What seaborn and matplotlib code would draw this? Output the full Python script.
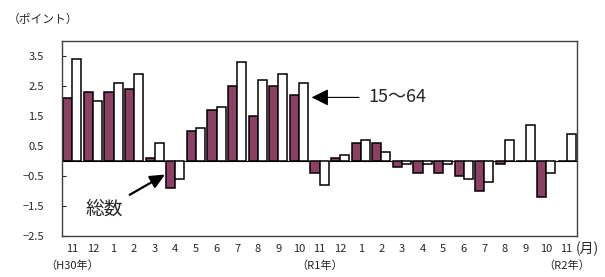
import numpy as np
import pandas as pd
import matplotlib
matplotlib.use('Agg')
import matplotlib.pyplot as plt
import seaborn as sns

# month labels on the x axis (H30.11 .. R2.11)
months = ['11', '12', '1', '2', '3', '4', '5', '6', '7', '8', '9', '10',
          '11', '12', '1', '2', '3', '4', '5', '6', '7', '8', '9', '10', '11']
# year labels and the month they sit under
year_labels = ['（H30年）', '（R1年）', '（R2年）']
year_pos = [0, 12, 24]

# difference from same month of previous year (points)
total = [2.1, 2.3, 2.3, 2.4, 0.1, -0.9, 1.0, 1.7, 2.5, 1.5, 2.5, 2.2,
         -0.4, 0.1, 0.6, 0.6, -0.2, -0.4, -0.4, -0.5, -1.0, -0.1, 0.0, -1.2, 0.0]
age15_64 = [3.4, 2.0, 2.6, 2.9, 0.6, -0.6, 1.1, 1.8, 3.3, 2.7, 2.9, 2.6,
            -0.8, 0.2, 0.7, 0.3, -0.1, -0.1, -0.1, -0.6, -0.7, 0.7, 1.2, -0.4, 0.9]
series = ['総数', '15～64']

yticks = [-2.5, -1.5, -0.5, 0.5, 1.5, 2.5, 3.5]

#%% long table for seaborn
idx = np.arange(len(months))
df = pd.DataFrame({'pos': np.concatenate([idx, idx]),
                   'value': total + age15_64,
                   'series': [series[0]] * len(total) + [series[1]] * len(age15_64)})

sns.set_style('white')
plt.rcParams['font.family'] = ['Noto Sans CJK JP', 'DejaVu Sans']

fig = plt.figure(figsize=(6.05, 2.77), dpi=100)
ax = fig.add_axes([62/605, 1 - 236/277, (577 - 62)/605, (236 - 41)/277])

sns.barplot(data=df, x='pos', y='value', hue='series', hue_order=series,
            palette={'総数': '#993366', '15～64': 'white'},
            edgecolor='black', linewidth=1.1, width=0.88, gap=0,
            legend=False, ax=ax)

ax.axhline(0, color='black', lw=0.8, zorder=0.5)
ax.set_xlim(-0.5, len(months) - 0.5)
ax.set_ylim(-2.5, 4.0)
ax.set_yticks(yticks)
ax.set_yticklabels(['%.1f' % v if v >= 0 else '\u2212%.1f' % -v for v in yticks], fontsize=8)
ax.set_xticks(idx)
ax.set_xticklabels(months, fontsize=8)
ax.set_xlabel('')
ax.set_ylabel('')
ax.tick_params(axis='y', direction='in', length=3, width=0.8, pad=13, left=True)
ax.tick_params(axis='x', length=0, pad=6)
for s in ax.spines.values():
    s.set_color('#404040')
    s.set_linewidth(1.0)

# unit / year labels
fig.text(8/605, 1 - 19/277, '（ポイント）', fontsize=8.5, va='center', ha='left')
fig.text(576/605, 1 - 249/277, '(月)', fontsize=10, va='center', ha='left')
for lab, p in zip(year_labels, year_pos):
    ax.text(p, -0.15, lab, transform=ax.get_xaxis_transform(), fontsize=8,
            ha='center', va='center')

# arrows
ax.annotate('15～64', xy=(11.62, 2.12), xytext=(14.35, 2.12), fontsize=13,
            va='center', ha='left',
            arrowprops=dict(arrowstyle='-|>,head_length=0.8,head_width=0.4',
                            color='black', lw=0.8, shrinkA=4, shrinkB=0))
ax.annotate('総数', xy=(4.5, -0.45), xytext=(1.54, -1.62), fontsize=13.5,
            va='center', ha='center',
            arrowprops=dict(arrowstyle='-|>,head_length=0.65,head_width=0.3',
                            color='black', lw=1.6, shrinkA=3, shrinkB=0))

plt.savefig('out.png', dpi=100)
